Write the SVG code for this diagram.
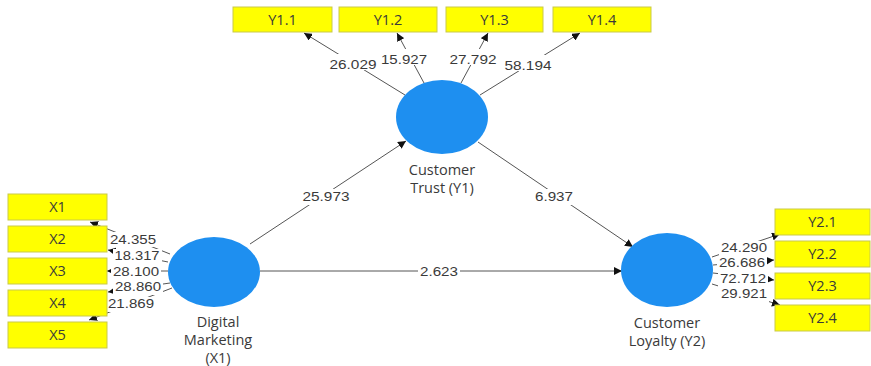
<svg xmlns="http://www.w3.org/2000/svg" width="871" height="366" viewBox="0 0 871 366">
<style>
.box{fill:#ffff00;stroke:#c9c94a;stroke-width:1}
.lv{fill:#1e8ff0}
.t{font-family:"Open Sans","Noto Sans",sans-serif;font-size:14.5px;fill:#3a3a3a;text-anchor:middle}
.ln{stroke:#555;stroke-width:1;fill:none}
.lbl{font-family:"Liberation Sans",Arial,sans-serif;font-size:13px;fill:#3a3a3a;text-anchor:middle}
</style>
<defs>
<marker id="ah" viewBox="0 0 10 10" refX="10" refY="5" markerWidth="8" markerHeight="8" markerUnits="userSpaceOnUse" orient="auto">
<path d="M0,0 L10,5 L0,10 z" fill="#111"/>
</marker>
</defs>
<rect width="871" height="366" fill="#fff"/>
<g id="connectors">
<line class="ln" x1="405" y1="95" x2="304" y2="33" marker-end="url(#ah)"/>
<line class="ln" x1="424" y1="83" x2="397" y2="33" marker-end="url(#ah)"/>
<line class="ln" x1="461" y1="83" x2="488" y2="33" marker-end="url(#ah)"/>
<line class="ln" x1="480" y1="95" x2="580" y2="33" marker-end="url(#ah)"/>
<line class="ln" x1="250" y1="244" x2="406" y2="141" marker-end="url(#ah)"/>
<line class="ln" x1="478" y1="142" x2="633" y2="247" marker-end="url(#ah)"/>
<line class="ln" x1="260" y1="271" x2="622" y2="271" marker-end="url(#ah)"/>
<line class="ln" x1="170" y1="254" x2="90" y2="222" marker-end="url(#ah)"/>
<line class="ln" x1="168" y1="262" x2="108" y2="250" marker-end="url(#ah)"/>
<line class="ln" x1="168" y1="271" x2="107" y2="271" marker-end="url(#ah)"/>
<line class="ln" x1="170" y1="283" x2="108" y2="292" marker-end="url(#ah)"/>
<line class="ln" x1="172" y1="288" x2="89" y2="320" marker-end="url(#ah)"/>
<line class="ln" x1="712" y1="257" x2="780" y2="234" marker-end="url(#ah)"/>
<line class="ln" x1="713" y1="265" x2="774" y2="260" marker-end="url(#ah)"/>
<line class="ln" x1="713" y1="273" x2="774" y2="280" marker-end="url(#ah)"/>
<line class="ln" x1="712" y1="284" x2="780" y2="305" marker-end="url(#ah)"/>
<g fill="#fff">
<rect x="328" y="54" width="50" height="16"/>
<rect x="380" y="49" width="48" height="16"/>
<rect x="449" y="49" width="48" height="16"/>
<rect x="503" y="55" width="50" height="16"/>
<rect x="300" y="189" width="52" height="16"/>
<rect x="532" y="189" width="44" height="16"/>
<rect x="418" y="264" width="42" height="14"/>
<rect x="108" y="232" width="50" height="15"/>
<rect x="113" y="249" width="49" height="15"/>
<rect x="111" y="265" width="50" height="15"/>
<rect x="113" y="280" width="50" height="15"/>
<rect x="107" y="297" width="49" height="15"/>
<rect x="719" y="241" width="50" height="15"/>
<rect x="717" y="256" width="50" height="15"/>
<rect x="718" y="272" width="50" height="15"/>
<rect x="719" y="287" width="50" height="15"/>
</g>
<text class="lbl" x="353" y="69" textLength="47" lengthAdjust="spacingAndGlyphs">26.029</text>
<text class="lbl" x="404" y="64" textLength="46" lengthAdjust="spacingAndGlyphs">15.927</text>
<text class="lbl" x="473" y="64" textLength="47" lengthAdjust="spacingAndGlyphs">27.792</text>
<text class="lbl" x="528" y="70" textLength="47" lengthAdjust="spacingAndGlyphs">58.194</text>
<text class="lbl" x="326" y="201" textLength="47" lengthAdjust="spacingAndGlyphs">25.973</text>
<text class="lbl" x="554" y="201" textLength="38" lengthAdjust="spacingAndGlyphs">6.937</text>
<text class="lbl" x="439" y="276" textLength="38" lengthAdjust="spacingAndGlyphs">2.623</text>
<text class="lbl" x="133" y="244" textLength="46" lengthAdjust="spacingAndGlyphs">24.355</text>
<text class="lbl" x="137" y="260" textLength="45" lengthAdjust="spacingAndGlyphs">18.317</text>
<text class="lbl" x="136" y="276" textLength="46" lengthAdjust="spacingAndGlyphs">28.100</text>
<text class="lbl" x="138" y="291" textLength="46" lengthAdjust="spacingAndGlyphs">28.860</text>
<text class="lbl" x="131" y="308" textLength="46" lengthAdjust="spacingAndGlyphs">21.869</text>
<text class="lbl" x="744" y="252" textLength="46" lengthAdjust="spacingAndGlyphs">24.290</text>
<text class="lbl" x="742" y="267" textLength="46" lengthAdjust="spacingAndGlyphs">26.686</text>
<text class="lbl" x="743" y="283" textLength="46" lengthAdjust="spacingAndGlyphs">72.712</text>
<text class="lbl" x="744" y="298" textLength="46" lengthAdjust="spacingAndGlyphs">29.921</text>
</g>
<g id="Y1.1"><rect class="box" x="233" y="7" width="99" height="25"/><text class="t" x="282.5" y="24.5">Y1.1</text></g>
<g id="Y1.2"><rect class="box" x="339" y="7" width="98" height="25"/><text class="t" x="388" y="24.5">Y1.2</text></g>
<g id="Y1.3"><rect class="box" x="446" y="7" width="97" height="25"/><text class="t" x="494.5" y="24.5">Y1.3</text></g>
<g id="Y1.4"><rect class="box" x="553" y="7" width="98" height="25"/><text class="t" x="602" y="24.5">Y1.4</text></g>
<g id="X1"><rect class="box" x="8" y="194" width="99" height="26"/><text class="t" x="57.5" y="212">X1</text></g>
<g id="X2"><rect class="box" x="8" y="226" width="99" height="26"/><text class="t" x="57.5" y="244">X2</text></g>
<g id="X3"><rect class="box" x="8" y="258" width="99" height="26"/><text class="t" x="57.5" y="276">X3</text></g>
<g id="X4"><rect class="box" x="8" y="290" width="99" height="26"/><text class="t" x="57.5" y="308">X4</text></g>
<g id="X5"><rect class="box" x="8" y="322" width="99" height="26"/><text class="t" x="57.5" y="340">X5</text></g>
<g id="Y2.1"><rect class="box" x="775" y="209" width="95" height="26"/><text class="t" x="822.5" y="227">Y2.1</text></g>
<g id="Y2.2"><rect class="box" x="775" y="241" width="95" height="26"/><text class="t" x="822.5" y="259">Y2.2</text></g>
<g id="Y2.3"><rect class="box" x="775" y="273" width="95" height="26"/><text class="t" x="822.5" y="291">Y2.3</text></g>
<g id="Y2.4"><rect class="box" x="775" y="305" width="95" height="26"/><text class="t" x="822.5" y="323">Y2.4</text></g>
<g id="CustomerTrust"><ellipse class="lv" cx="442" cy="117" rx="46" ry="37"/><text class="t" x="442" y="175">Customer</text><text class="t" x="442" y="193">Trust (Y1)</text></g>
<g id="DigitalMarketing"><ellipse class="lv" cx="214" cy="272" rx="46" ry="35"/><text class="t" x="218" y="327">Digital</text><text class="t" x="218" y="345">Marketing</text><text class="t" x="218" y="363">(X1)</text></g>
<g id="CustomerLoyalty"><ellipse class="lv" cx="667" cy="270" rx="46" ry="37"/><text class="t" x="667" y="328">Customer</text><text class="t" x="667" y="346">Loyalty (Y2)</text></g>
</svg>
